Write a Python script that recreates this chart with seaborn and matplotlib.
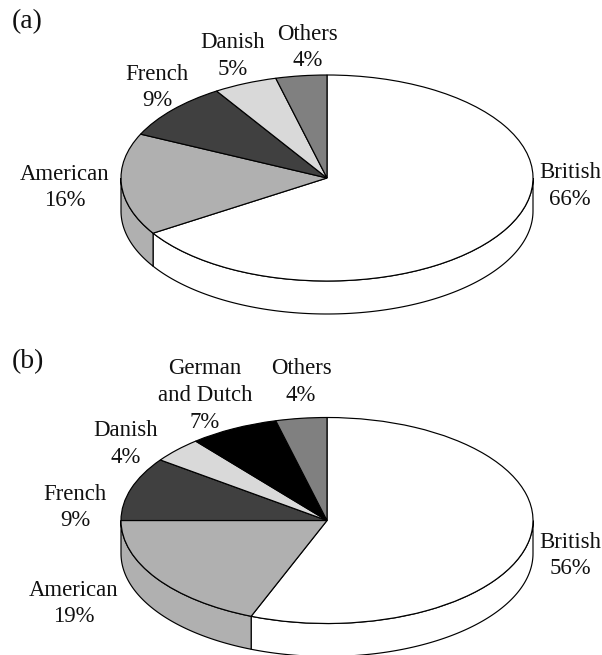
import numpy as np
import matplotlib
matplotlib.use("Agg")
import matplotlib.pyplot as plt
import seaborn as sns

# ---- data ----
categories_a = ["British", "American", "French", "Danish", "Others"]
values_a = [66, 16, 9, 5, 4]
labels_a = ["66%", "16%", "9%", "5%", "4%"]

categories_b = ["British", "American", "French", "Danish", "German\nand Dutch", "Others"]
values_b = [56, 19, 10, 4, 7, 4]      # slice sizes as drawn
labels_b = ["56%", "19%", "9%", "4%", "7%", "4%"]

shades = {"British": "#ffffff", "American": "#b0b0b0", "French": "#404040",
          "Danish": "#d9d9d9", "German\nand Dutch": "#000000", "Others": "#808080"}

# ---- layout ----
W, H = 602, 655
CX, RX, RY, DEPTH = 327, 206, 103, 33
FS = 16.4

sns.set_theme(style="white")
plt.rcParams["font.family"] = ["Liberation Serif", "DejaVu Serif"]
fig = plt.figure(figsize=(W / 100, H / 100), dpi=100, facecolor="white")


def disc(top, bottom, cy, cats, vals):
    ax = fig.add_axes([0, 1 - bottom / H, 1, (bottom - top) / H])
    cols = sns.color_palette([shades[c] for c in cats])
    vals = np.asarray(vals, float)
    edges = 90 - 360 * np.concatenate([[0], np.cumsum(vals)]) / vals.sum()
    d = DEPTH / RY
    # side wall of the disc: the part of each slice facing the viewer
    for a0, a1, col in zip(edges[:-1], edges[1:], cols):
        s, e = max(a1, -180), min(a0, 0)
        if e > s:
            t = np.radians(np.linspace(s, e, 120))
            x, y = np.cos(t), np.sin(t)
            ax.fill(np.r_[x, x[::-1]], np.r_[y, y[::-1] - d], facecolor=col,
                    edgecolor="black", linewidth=0.85, zorder=1, clip_on=False)
    wedges, _ = ax.pie(vals, colors=cols, startangle=90, counterclock=False,
                       radius=1, wedgeprops=dict(edgecolor="black", linewidth=0.85))
    for w in wedges:
        w.set_zorder(2)
    ax.set_aspect("auto")
    ax.set_xlim((0 - CX) / RX, (W - CX) / RX)
    ax.set_ylim((cy - bottom) / RY, (cy - top) / RY)
    ax.set_axis_off()
    return ax


disc(0, 330, 178, categories_a, values_a)
disc(330, H, 520.5, categories_b, values_b)


def put(x, y, s, size=FS, ha="center"):
    fig.text(x / W, 1 - y / H, s, va="center", ha=ha, fontsize=size, color="#111111")


def stack(x, y, name, pct):
    for i, line in enumerate((name + "\n" + pct).split("\n")):
        put(x, y + i * 26.5, line)


pos_a = [(570, 173), (65, 174), (157, 74), (233, 43), (308, 34)]
pos_b = [(570, 542), (74, 590), (75, 494), (126, 431), (205, 369), (301, 369)]
for (x, y), c, p in zip(pos_a, categories_a, labels_a):
    stack(x, y, c, p)
for (x, y), c, p in zip(pos_b, categories_b, labels_b):
    stack(x, y, c, p)

put(12, 22, "(a)", size=20, ha="left")
put(12, 362, "(b)", size=20, ha="left")

fig.savefig("out.png", dpi=100, facecolor="white")
